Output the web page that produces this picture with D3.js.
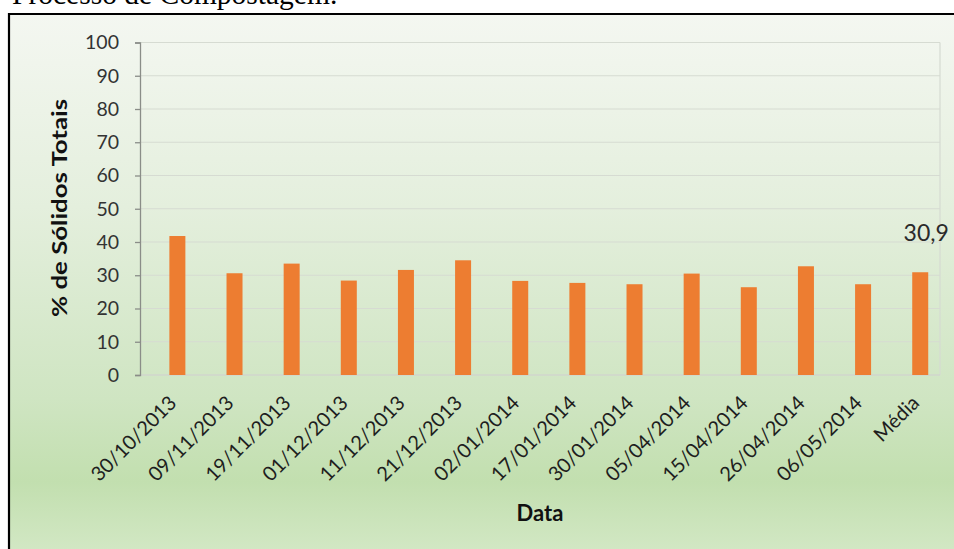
<!DOCTYPE html>
<html><head><meta charset="utf-8">
<script src="https://cdn.jsdelivr.net/npm/d3@7"></script>
<style>body{margin:0;background:#fff}svg{display:block}</style>
</head><body><svg id="c" width="954" height="549"></svg>
<script>
const categories = ["30/10/2013","09/11/2013","19/11/2013","01/12/2013","11/12/2013","21/12/2013","02/01/2014","17/01/2014","30/01/2014","05/04/2014","15/04/2014","26/04/2014","06/05/2014","Média"];
const values = [41.8,30.6,33.5,28.4,31.6,34.5,28.3,27.7,27.3,30.5,26.4,32.7,27.3,30.9];
const yTicks = [0,10,20,30,40,50,60,70,80,90,100];
const meanLabel = "30,9";
const caption = "Processo de Compostagem.";
const yTitle = "% de Sólidos Totais";
const xTitle = "Data";

const svg = d3.select("#c");
const W = 954, H = 549;
const m = {left:140, right:940, top:42.5, bottom:375};
const font = "Lato, 'Open Sans', sans-serif";

const defs = svg.append("defs");
const g = defs.append("linearGradient").attr("id","bg").attr("x1",0).attr("y1",0).attr("x2",0).attr("y2",1);
[[0,"#f4f7f1"],[0.35,"#e4efdd"],[0.7,"#cfe5c2"],[0.85,"#c2dfaf"],[1,"#d5e9c8"]].forEach(s=>g.append("stop").attr("offset",s[0]).attr("stop-color",s[1]));

// caption
svg.append("text").attr("x",12).attr("y",4).attr("font-family","'Liberation Serif','Times New Roman',serif")
  .attr("font-size",29.5).attr("fill","#000").text(caption);

// chart area
svg.append("rect").attr("x",9).attr("y",15).attr("width",W).attr("height",H).attr("fill","url(#bg)");
svg.append("path").attr("d",`M9,${H+5}V14H${W+5}`).attr("fill","none").attr("stroke","#000").attr("stroke-width",2.2);

const x = d3.scaleBand().domain(categories).range([m.left,m.right]).paddingInner(0).paddingOuter(0);
const y = d3.scaleLinear().domain([0,100]).range([m.bottom,m.top]);

// gridlines
svg.append("g").selectAll("line").data(yTicks.filter(t=>t>0)).join("line")
  .attr("x1",m.left).attr("x2",m.right).attr("y1",d=>y(d)).attr("y2",d=>y(d))
  .attr("stroke","#d6dbd2").attr("stroke-width",1.2);
svg.append("line").attr("x1",m.right).attr("x2",m.right).attr("y1",m.top).attr("y2",m.bottom).attr("stroke","#d6dbd2").attr("stroke-width",1.2);
svg.append("line").attr("x1",m.left).attr("x2",m.right).attr("y1",m.bottom).attr("y2",m.bottom).attr("stroke","#d0d6cc").attr("stroke-width",1.5);

// bars
const bw = 16;
svg.append("g").selectAll("rect").data(values).join("rect")
  .attr("x",(d,i)=>x(categories[i])+x.bandwidth()/2+0.8)
  .attr("width",bw)
  .attr("y",d=>y(d)).attr("height",d=>y(0)-y(d))
  .attr("fill","#ed7d31");

// y axis
const ya = svg.append("g").attr("transform",`translate(${m.left},0)`)
  .call(d3.axisLeft(y).tickValues(yTicks).tickSize(5).tickPadding(16));
ya.select(".domain").attr("stroke","#8a8d88").attr("stroke-width",1.3);
ya.selectAll(".tick line").attr("stroke","#8a8d88").attr("stroke-width",1.3);
ya.selectAll("text").attr("font-family",font).attr("font-size",19.5).attr("fill","#333");

// x labels
svg.append("g").selectAll("text").data(categories).join("text")
  .attr("transform",d=>`translate(${x(d)+x.bandwidth()/2-1},${m.bottom+19}) rotate(-45)`)
  .attr("text-anchor","end").attr("dy","0.72em")
  .attr("font-family",font).attr("font-size",20).attr("fill","#1e1e1e").text(d=>d);

// mean label
svg.append("text").attr("x",x("Média")+x.bandwidth()/2+0.8+bw/2+6).attr("y",y(30.9)-31)
  .attr("text-anchor","middle").attr("font-family",font).attr("font-size",23).attr("fill","#2a2a2a").text(meanLabel);

// titles
svg.append("text").attr("transform","translate(67,208) rotate(-90)").attr("text-anchor","middle")
  .attr("font-family",font).attr("font-weight","bold").attr("font-size",21)
  .attr("textLength",218).attr("lengthAdjust","spacingAndGlyphs").attr("fill","#111").text(yTitle);
svg.append("text").attr("x",540).attr("y",521).attr("text-anchor","middle")
  .attr("font-family",font).attr("font-weight","bold").attr("font-size",22).attr("fill","#111").text(xTitle);
</script></body></html>
